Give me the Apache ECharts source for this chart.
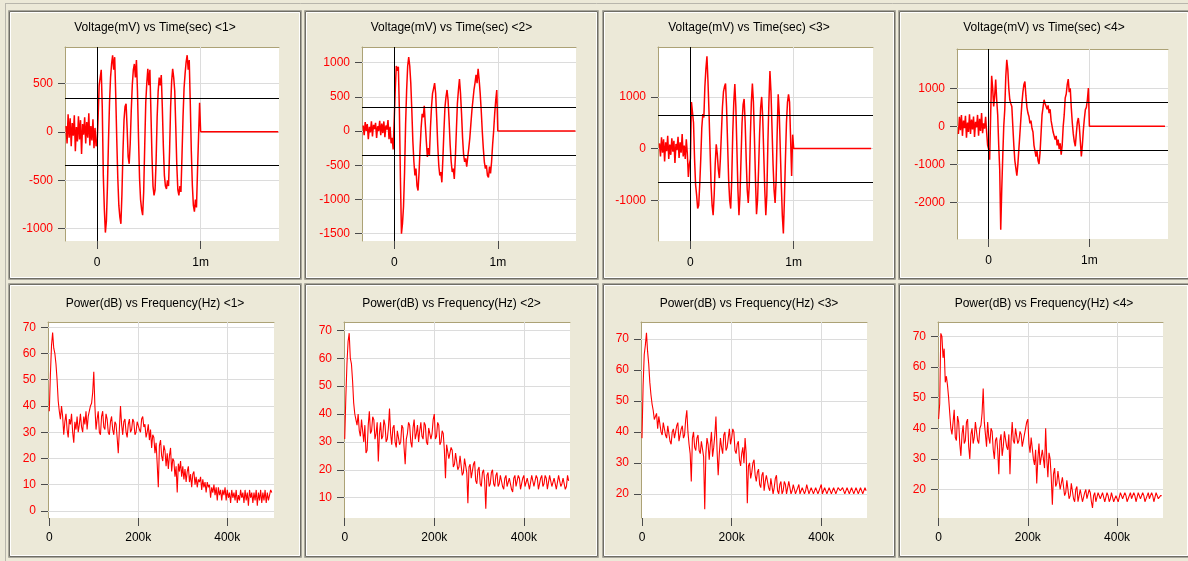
<!DOCTYPE html>
<html>
<head>
<meta charset="utf-8">
<script src="https://cdn.jsdelivr.net/npm/echarts@6/dist/echarts.min.js"></script>
<style>
html,body{margin:0;padding:0;background:#ECE9D8;}
#c{width:1188px;height:561px;}
</style>
</head>
<body>
<div id="c"></div>
<script>
// ================= DATA =================
// Voltage traces (mV), sampled every 0.01 ms from -0.30 ms to 1.00 ms
const TIME_START = -0.30;   // ms
const TIME_STEP = 0.01;     // ms
const TIME_TAIL = [[1.00, 0], [1.75, 0]]; // signal is 0 after 1 ms

const V1 = [
  60,-120,180,-60,140,-150,90,-40,170,-200,50,-100,160,-80,120,-230,80,-30,150,-120,100,-60,190,-140,60,-90,130,-170,40,-150,
  -120,150,480,560,640,250,-450,-800,-1040,-920,
  -560,-100,300,560,700,790,640,770,380,-80,
  -480,-760,-880,-950,-640,-200,120,260,290,40,
  -260,-330,-120,220,480,640,700,560,740,420,
  -60,-480,-700,-800,-860,-620,-150,300,500,650,
  480,640,200,-250,-560,-656,-600,-300,150,420,
  560,480,585,250,-150,-450,-560,-590,-500,-560,
  -200,250,520,650,560,420,50,-350,-600,-656,
  -560,-620,-250,150,450,600,720,790,640,740,
  300,-200,-550,-760,-825,-700,-780,-400,-50,300,
  0
];
const V2 = [
  80,-60,130,0,100,-120,60,-20,140,-80,90,30,120,-100,70,0,150,-60,110,-30,140,-90,80,20,160,-120,60,-180,-100,-270,
  -250,600,950,880,940,300,-700,-1500,-1350,-1100,
  -600,100,600,950,1080,950,700,300,-150,-450,
  -650,-550,-800,-870,-600,-250,50,250,200,370,
  100,-150,-380,-250,-350,50,350,550,620,700,
  550,200,-200,-500,-650,-600,-750,-400,0,350,
  500,600,450,150,-200,-450,-600,-550,-700,-400,
  0,400,600,760,550,250,-100,-350,-450,-400,
  -520,-380,-250,-100,100,300,450,600,700,820,
  700,910,750,550,300,0,-250,-450,-550,-500,
  -650,-680,-520,-620,-450,-200,0,250,450,600,
  0
];
const V3 = [
  100,-150,220,-80,180,-250,120,-50,250,-200,80,-120,200,-60,150,-280,90,-30,230,-180,120,-80,280,-150,60,-200,180,-100,-550,-300,
  -200,900,935,500,-200,-700,-900,-1160,-1100,-700,
  -200,400,670,600,1200,1550,1785,1300,700,0,
  -700,-1100,-1290,-900,-300,85,-100,-400,-570,-200,
  300,800,1100,1200,1260,800,100,-600,-1000,-1160,
  -600,300,900,1250,800,0,-800,-1290,-900,-200,
  500,850,960,500,-200,-800,-1050,-700,200,900,
  1260,900,200,-600,-1270,-1000,-400,300,800,1000,
  600,-100,-800,-1290,-900,100,900,1500,1100,400,
  -300,-800,-1050,-600,300,1050,700,0,-700,-1300,
  -1640,-1000,-200,500,900,1050,900,200,-530,270,
  0
];
const V4 = [
  -200,250,-100,300,-250,150,-50,280,-300,100,-150,320,-200,180,-80,260,-280,120,-30,300,-250,200,-120,350,-180,80,-60,250,-150,-500,
  -600,-880,300,1330,1000,525,800,1230,700,300,
  -500,-1140,-2720,-1670,-800,0,440,1300,1750,1500,
  1000,700,600,525,0,-500,-900,-1100,-1300,-1000,
  -600,-200,200,600,900,1100,1180,800,500,350,
  260,80,150,-50,-150,-500,-450,-800,-650,-900,
  -990,-700,-200,300,500,700,600,650,450,550,
  350,450,150,200,-150,-100,-350,-250,-500,-350,
  -600,-450,-745,-500,0,300,750,850,1100,1245,
  900,1000,500,100,-200,-400,-525,-200,100,220,
  0,-400,-790,-500,-100,200,440,500,700,1010,
  0
];

// Power spectra (dB), sampled every 2.5 kHz from 0 to 500 kHz
const FREQ_STEP = 2500; // Hz
const S1 = [
  38,52,63,68,62,60,56,50,42,38,
  35,40,36,29,34,37,31,28,35,33,
  37,30,26,34,31,36,30,33,37,32,
  30,36,33,38,31,36,38,40,41,45,
  53,40,31,35,38,30,29,36,38,32,
  31,37,35,30,29,34,36,31,29,34,
  33,28,22,31,40,33,29,34,35,30,
  28,33,35,30,31,35,34,29,30,34,
  34,31,30,35,36,32,33,28,30,33,
  27,31,24,29,28,22,26,18,9,25,
  27,21,19,25,23,17,22,16,21,24,
  15,20,19,13,17,7,18,15,19,13,
  17,12,16,11,15,17,11,14,9,14,
  15,10,13,9,12,11,13,8,12,9,
  11,7,11,9,10,5,9,7,10,6,
  9,4,9,6,8,4,8,6,9,4,
  8,5,7,3,8,5,7,4,8,3,
  6,4,8,5,7,3,8,4,7,2,
  8,5,7,3,7,4,8,2,7,4,
  8,3,7,4,8,3,7,4,6,8,
  7
];
const S2 = [
  31,46,58,66,69,60,58,52,44,40,
  38,36,40,34,32,38,38,30,36,26,
  27,36,41,33,34,39,38,31,33,37,
  23,33,37,31,32,38,36,30,31,35,
  42,33,29,35,36,30,28,34,34,29,
  30,36,35,28,22,31,33,37,36,30,
  28,35,38,31,33,36,30,34,37,32,
  31,37,36,30,29,35,35,31,33,38,
  40,31,32,37,36,29,30,34,33,27,
  17,29,29,24,24,28,27,21,22,26,
  26,20,21,25,25,18,19,24,24,19,
  8,21,22,17,17,22,23,16,15,20,
  21,15,14,19,20,16,6,18,19,14,
  15,19,20,15,14,18,19,14,15,18,
  18,14,13,17,18,14,14,17,17,13,
  12,17,18,14,14,18,17,13,13,17,
  18,14,14,17,17,13,13,18,18,14,
  14,18,17,13,13,17,18,14,15,18,
  17,13,13,18,18,14,14,17,17,13,
  13,18,18,14,15,17,17,13,14,18,
  16
];
const S3 = [
  38,55,65,68,72,66,62,56,52,49,
  47,44,44,46,41,45,45,40,39,43,
  43,39,38,42,42,37,36,40,41,38,
  38,42,43,37,37,41,42,38,39,44,
  47,40,36,33,24,38,40,35,34,38,
  39,34,33,37,37,32,15,33,38,36,
  31,36,40,32,35,39,45,34,26,33,
  38,35,33,39,40,34,35,38,41,36,
  38,41,40,34,33,36,37,31,29,33,
  35,30,38,33,17,29,30,25,27,30,
  31,26,24,27,28,23,22,26,27,21,
  24,26,26,22,21,25,25,20,22,25,
  26,21,20,23,24,20,21,24,23,20,
  22,24,24,20,21,23,23,20,20,22,
  23,20,21,22,22,20,21,23,23,20,
  21,22,22,20,20,22,22,20,21,22,
  23,20,21,22,22,20,20,22,22,20,
  21,22,22,20,20,22,22,21,21,22,
  22,20,20,22,22,20,21,22,22,20,
  20,22,22,20,21,22,22,20,20,22,
  21
];
const S4 = [
  43,48,71,70,63,66,55,57,54,50,
  45,40,38,42,46,37,36,44,42,35,
  31,38,41,35,36,42,43,34,30,38,
  40,35,37,42,42,36,35,40,41,45,
  53,42,38,34,42,37,35,40,39,33,
  30,36,37,33,25,36,38,31,34,39,
  39,34,33,38,25,36,42,36,35,40,
  40,35,36,39,38,34,34,38,38,42,
  43,35,32,37,37,30,28,33,22,30,
  35,28,28,33,33,27,40,30,24,32,
  30,24,15,25,27,21,22,26,26,20,
  20,24,24,18,19,23,23,17,18,22,
  22,17,16,20,21,16,18,20,20,16,
  16,19,20,17,17,20,19,16,14,18,
  19,16,16,19,19,17,17,19,19,16,
  16,19,18,16,17,19,19,16,16,18,
  18,16,16,19,19,17,17,19,18,16,
  16,18,19,17,17,19,18,16,16,19,
  19,17,17,19,18,16,16,18,19,17,
  17,19,18,16,16,19,19,17,17,18,
  18
];

// Titles
const V_TITLES = ['Voltage(mV) vs Time(sec) <1>','Voltage(mV) vs Time(sec) <2>','Voltage(mV) vs Time(sec) <3>','Voltage(mV) vs Time(sec) <4>'];
const S_TITLES = ['Power(dB) vs Frequency(Hz) <1>','Power(dB) vs Frequency(Hz) <2>','Power(dB) vs Frequency(Hz) <3>','Power(dB) vs Frequency(Hz) <4>'];

// Ticks
const T_TICKS = [0, 1];
const T_LABELS = ['0', '1m'];
const F_TICKS = [0, 200000, 400000];
const F_LABELS = ['0', '200k', '400k'];
const V_YTICKS = [
  [-1000, -500, 0, 500],
  [-1500, -1000, -500, 0, 500, 1000],
  [-1000, 0, 1000],
  [-2000, -1000, 0, 1000]
];
const S_YTICKS = [
  [0, 10, 20, 30, 40, 50, 60, 70],
  [10, 20, 30, 40, 50, 60, 70],
  [20, 30, 40, 50, 60, 70],
  [20, 30, 40, 50, 60, 70]
];
const THRESHOLDS = [350, 350, 645, 625]; // mV, drawn as +/- cursor lines

// ================= LAYOUT =================
const LAYOUT = [
  {panel:[8,10,294,270],   grid:[65,47,214,194],  x:[-0.31,1.757],  y:[-1127,875]},
  {panel:[304,10,295,270], grid:[362,47,214,194], x:[-0.311,1.755], y:[-1608,1228]},
  {panel:[602,10,294,270], grid:[658,47,215,194], x:[-0.314,1.768], y:[-1788,1966]},
  {panel:[898,10,292,270], grid:[957,49,211,190], x:[-0.314,1.78],  y:[-2965,2035]},
  {panel:[8,283,294,275],  grid:[48,322,226,196], x:[-2900,505000], y:[-2.7,72]},
  {panel:[304,283,295,275],grid:[344,322,226,196],x:[-1600,503000], y:[2.7,73]},
  {panel:[602,283,294,275],grid:[641,322,226,196],x:[-2200,502000], y:[12.2,75.5]},
  {panel:[898,283,292,275],grid:[938,322,225,196],x:[-1300,503000], y:[10.7,74.7]}
];

const FONT = '"Liberation Sans", Arial, sans-serif';
const OLIVE = '#ACA276';
const GRIDC = '#DCDCDC';
const TICKC = '#4A4A4A';

const VOLT = [V1, V2, V3, V4];
const SPEC = [S1, S2, S3, S4];

function timeData(vals) {
  const d = vals.map((v, i) => [+(TIME_START + i * TIME_STEP).toFixed(4), v]);
  return d.concat(TIME_TAIL);
}
function freqData(vals) {
  return vals.map((v, i) => [i * FREQ_STEP, v]);
}

const grids = [], xAxes = [], yAxes = [], series = [], graphics = [];

// outer frame line
graphics.push({type:'line', silent:true, shape:{x1:5, y1:3.5, x2:1188, y2:3.5}, style:{stroke:'#B8B6AC', lineWidth:1}});
graphics.push({type:'line', silent:true, shape:{x1:5.5, y1:3, x2:5.5, y2:561}, style:{stroke:'#B8B6AC', lineWidth:1}});

LAYOUT.forEach((L, i) => {
  const isV = i < 4;
  const k = i % 4;
  const [px, py, pw, ph] = L.panel;
  // etched panel frame
  const frameCols = ['#A9A79C', '#6F6E66', '#FFFFFF'];
  frameCols.forEach((c, j) => {
    graphics.push({type:'rect', silent:true,
      shape:{x:px + j + 0.5, y:py + j + 0.5, width:pw - 2*j - 1, height:ph - 2*j - 1},
      style:{fill:null, stroke:c, lineWidth:1}});
  });
  // title
  graphics.push({type:'text', silent:true, x: px + pw/2, y: isV ? 28 : 304,
    style:{text: isV ? V_TITLES[k] : S_TITLES[k], fill:'#000', fontSize:12, fontFamily:FONT, align:'center', verticalAlign:'middle'}});

  const [gl, gt, gw, gh] = L.grid;
  grids.push({left:gl, top:gt, width:gw, height:gh, show:true, backgroundColor:'#FFFFFF', borderWidth:0, containLabel:false});

  const xt = isV ? T_TICKS : F_TICKS;
  const xl = isV ? T_LABELS : F_LABELS;
  const yt = isV ? V_YTICKS[k] : S_YTICKS[k];

  xAxes.push({
    gridIndex:i, type:'value', min:L.x[0], max:L.x[1], position:'bottom',
    axisLine:{show:false, onZero:false},
    axisTick:{show:true, customValues:xt, length:8, lineStyle:{color:TICKC, width:1}},
    axisLabel:{show:true, customValues:xt, formatter:(v) => { const idx = xt.indexOf(v); return idx >= 0 ? xl[idx] : ''; },
      color:'#000', fontSize:12, fontFamily:FONT, margin:isV ? 16 : 14},
    splitLine:{show:false}
  });
  xAxes.push({
    gridIndex:i, type:'value', min:L.x[0], max:L.x[1], position:'top',
    axisLine:{show:true, onZero:false, lineStyle:{color:OLIVE, width:1}},
    axisTick:{show:false}, axisLabel:{show:false}, splitLine:{show:false}
  });
  yAxes.push({
    gridIndex:i, type:'value', min:L.y[0], max:L.y[1], position:'left',
    axisLine:{show:true, onZero:false, lineStyle:{color:OLIVE, width:1}},
    axisTick:{show:true, customValues:yt, length:7, lineStyle:{color:TICKC, width:1}},
    axisLabel:{show:true, customValues:yt, formatter:(v) => String(v), color:'#FF0000', fontSize:12, fontFamily:FONT, margin:12},
    splitLine:{show:false}
  });

  // light grid lines (below the trace)
  const gridLines = yt.map(v => ({yAxis:v})).concat(
    (isV ? [1] : [200000, 400000]).map(v => ({xAxis:v})));
  series.push({
    type:'line', xAxisIndex:2*i, yAxisIndex:i, data:[], silent:true, animation:false,
    markLine:{silent:true, animation:false, z:1, symbol:['none','none'], label:{show:false},
      lineStyle:{color:GRIDC, width:1, type:'solid'}, emphasis:{disabled:true}, data:gridLines}
  });

  const s = {
    type:'line', xAxisIndex:2*i, yAxisIndex:i, z:2,
    data: isV ? timeData(VOLT[k]) : freqData(SPEC[k]),
    showSymbol:false, symbol:'none', silent:true, animation:false,
    lineStyle:{color:'#FF0000', width: isV ? 1.5 : 1.1}, clip:true
  };
  if (isV) {
    const th = THRESHOLDS[k];
    s.markLine = {silent:true, animation:false, z:5, symbol:['none','none'], label:{show:false},
      lineStyle:{color:'#000000', width:1, type:'solid'}, emphasis:{disabled:true},
      data:[{xAxis:0}, {yAxis:th}, {yAxis:-th}]};
  }
  series.push(s);
});

const chart = echarts.init(document.getElementById('c'), null, {renderer:'canvas', width:1188, height:561});
chart.setOption({
  backgroundColor:'#ECE9D8',
  animation:false,
  grid:grids, xAxis:xAxes, yAxis:yAxes, series:series,
  graphic:{elements:graphics}
});
</script>
</body>
</html>
